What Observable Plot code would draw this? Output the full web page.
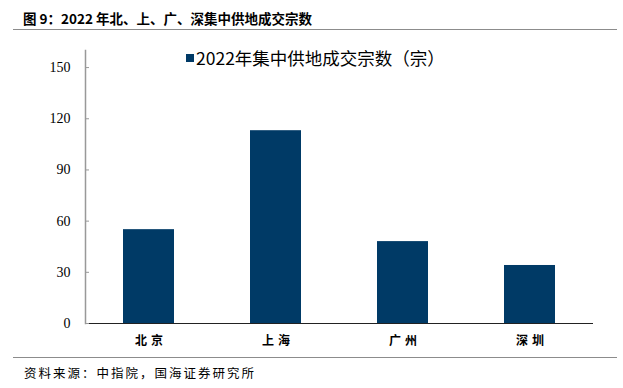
<!DOCTYPE html>
<html><head><meta charset="utf-8">
<script src="https://cdn.jsdelivr.net/npm/d3@7"></script>
<script src="https://cdn.jsdelivr.net/npm/@observablehq/plot@0.6"></script>
<style>
body{margin:0;background:#fff;width:623px;height:388px;overflow:hidden;font-family:"Noto Sans CJK SC",sans-serif;}
#wrap{position:relative;width:623px;height:388px;}
#title{position:absolute;left:23px;top:8px;font-size:13.5px;font-weight:bold;color:#000;white-space:nowrap;}
#rule1{position:absolute;left:13px;top:29px;width:604px;height:0;border-top:1.5px solid #8c8c8c;}
#chart{position:absolute;left:0;top:32px;}
#legend{position:absolute;left:186px;top:45px;font-size:17.5px;color:#000;white-space:nowrap;display:flex;align-items:center;}
#legend span.sw{display:inline-block;width:8px;height:8px;background:#003a66;margin-right:2px;}
#rule2{position:absolute;left:13px;top:357px;width:604px;height:0;border-top:1.5px solid #8c8c8c;}
#src{position:absolute;left:24px;top:363px;font-size:12.5px;letter-spacing:2px;color:#000;white-space:nowrap;}
#chart g[aria-label="x-axis tick label"] text{letter-spacing:4px;}
</style></head><body>
<div id="wrap">
<div id="title">图 9：2022 年北、上、广、深集中供地成交宗数</div>
<div id="rule1"></div>
<div id="chart"></div>
<div id="legend"><span class="sw"></span><span>2022年集中供地成交宗数（宗）</span></div>
<div id="rule2"></div>
<div id="src">资料来源：中指院，国海证券研究所</div>
</div>
<script>
const cities = ["北京", "上海", "广州", "深圳"];
const deals = [55, 113, 48, 34];
const yTicks = [0, 30, 60, 90, 120, 150];

const data = cities.map((c, i) => ({city: c, value: deals[i]}));

const chart = Plot.plot({
  width: 623,
  height: 325,
  marginTop: 18,
  marginBottom: 34,
  marginLeft: 85,
  marginRight: 30,
  x: {domain: cities, paddingInner: 0.6, paddingOuter: 0.3, label: null},
  y: {domain: [0, 160], ticks: yTicks, label: null},
  marks: [
    Plot.barY(data, {x: "city", y: "value", fill: "#003a66"}),
    Plot.frame({anchor: "left", stroke: "#999", strokeWidth: 1.5}),
    Plot.ruleY([0], {stroke: "#222", strokeWidth: 1}),
    Plot.axisY({ticks: yTicks, tickSize: -4, tickPadding: 19, stroke: "#999",
      fontFamily: "Liberation Serif, Times New Roman, serif", fontSize: 14, fill: "#000", label: null}),
    Plot.axisX({tickSize: 0, tickPadding: 13, dx: 2, fontSize: 12, fontWeight: "bold", fill: "#000",
      fontFamily: "Noto Sans CJK SC, sans-serif", label: null})
  ]
});
document.getElementById("chart").appendChild(chart);
</script>
</body></html>
